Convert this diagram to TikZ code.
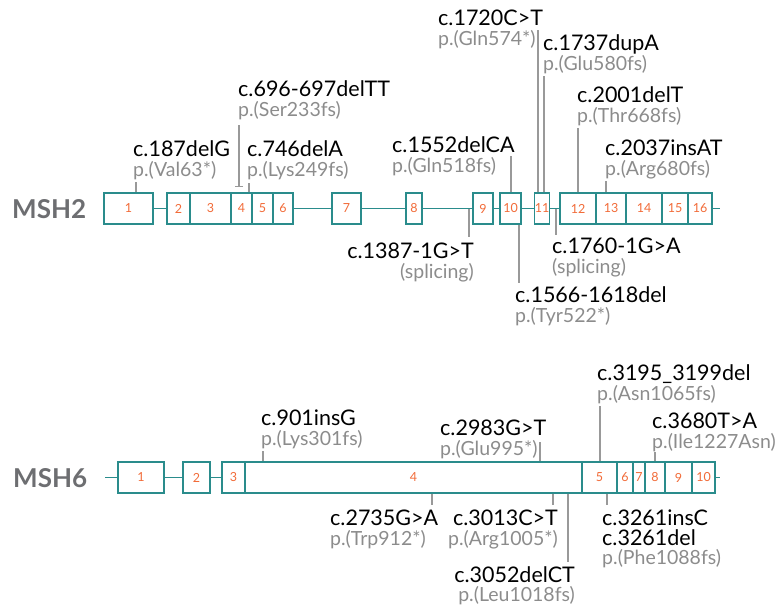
\documentclass[tikz,border=0pt]{standalone}
\usepackage{fontspec}
\setmainfont{Lato}
\usepackage{xcolor}
\usetikzlibrary{arrows.meta,positioning}
\definecolor{exonteal}{HTML}{2A8C8C}
\definecolor{exonorange}{HTML}{F26B38}
\definecolor{protgray}{HTML}{8C8C8C}
\definecolor{stemgray}{HTML}{999999}
\definecolor{genegray}{HTML}{6D6E71}

\begin{document}
\begin{tikzpicture}[
  x=1pt, y=-1pt,
  exon/.style={rectangle, draw=exonteal, fill=white, line width=1.3pt, inner sep=0pt, minimum height=31pt, text=exonorange, font=\fontsize{12.5}{12.5}\selectfont},
  intron/.style={draw=exonteal, line width=1.3pt},
  cname/.style={inner sep=0pt, anchor=base west, font=\fontsize{21.5}{21.5}\selectfont},
  pname/.style={inner sep=0pt, anchor=base west, text=protgray, font=\fontsize{19.5}{19.5}\selectfont},
  stem/.style={draw=stemgray, line width=1.1pt},
  gene/.style={inner sep=0pt, anchor=base west, text=genegray, font=\bfseries\fontsize{26}{26}\selectfont}
]
  \useasboundingbox (0,0) rectangle (776,608);

  % MSH2
  \node[gene] (msh2) at (12,218) {MSH2};
  \foreach \n/\a/\b in {1/104/153, 2/167/190, 3/190/231, 4/231/252, 5/252/273, 6/273/293, 7/332/361, 8/406/422, 9/473/493, 10/500/521, 11/535/549, 12/560/596, 13/596/626, 14/626/662, 15/662/688, 16/688/712}
    \node[exon, minimum width={(\b-\a)*1pt}] (a\n) at ({(\a+\b)/2},208.5) {\n};
  \foreach \n [evaluate=\n as \m using int(\n+1)] in {1,...,15}
    \draw[intron] (a\n.east) -- (a\m.west);
  \coordinate (a-end) at (720,208.5);
  \draw[intron] (a16.east) -- (a-end);

  \node[cname] (c187) at (133,156) {c.187delG};
  \node[pname] (p187) at ([yshift=-20pt]c187.base west) {p.(Val63*)};
  \coordinate (s187) at (136,182);
  \draw[stem] (s187) -- (s187 |- a1.north);

  \node[cname] (c696) at (238,96) {c.696-697delTT};
  \node[pname] (p696) at ([yshift=-20pt]c696.base west) {p.(Ser233fs)};
  \coordinate (s696) at (239,125);
  \coordinate (t696) at (239,187);
  \draw[stem, -{Bar[width=8pt]}] (s696) -- (t696);

  \node[cname] (c746) at (247,156) {c.746delA};
  \node[pname] (p746) at ([yshift=-20pt]c746.base west) {p.(Lys249fs)};
  \coordinate (s746) at (249,183);
  \draw[stem] (s746) -- (s746 |- a4.north);

  \node[cname] (c1552) at (392,152) {c.1552delCA};
  \node[pname] (p1552) at ([yshift=-20pt]c1552.base west) {p.(Gln518fs)};
  \coordinate (s1552) at (511,156);
  \draw[stem] (s1552) -- (s1552 |- a10.north);

  \node[cname] (c1720) at (438,25) {c.1720C>T};
  \node[pname] (p1720) at ([yshift=-20pt]c1720.base west) {p.(Gln574*)};
  \coordinate (s1720) at (538,30);
  \draw[stem] (s1720) -- (s1720 |- a11.north);

  \node[cname] (c1737) at (543,50) {c.1737dupA};
  \node[pname] (p1737) at ([yshift=-20pt]c1737.base west) {p.(Glu580fs)};
  \coordinate (s1737) at (544,76);
  \draw[stem] (s1737) -- (s1737 |- a11.north);

  \node[cname] (c2001) at (577,102) {c.2001delT};
  \node[pname] (p2001) at ([yshift=-20pt]c2001.base west) {p.(Thr668fs)};
  \coordinate (s2001) at (578,128);
  \draw[stem] (s2001) -- (s2001 |- a12.north);

  \node[cname] (c2037) at (605,155) {c.2037insAT};
  \node[pname] (p2037) at ([yshift=-20pt]c2037.base west) {p.(Arg680fs)};
  \coordinate (s2037) at (606,181);
  \draw[stem] (s2037) -- (s2037 |- a13.north);

  \node[cname, anchor=base east] (c1387) at (474,258) {c.1387-1G>T};
  \node[pname, anchor=base east] (p1387) at ([yshift=-20pt]c1387.base east) {(splicing)};
  \coordinate (s1387) at (469,237);
  \draw[stem] (s1387 |- a9.west) -- (s1387);

  \node[cname] (c1566) at (515,302) {c.1566-1618del};
  \node[pname] (p1566) at ([yshift=-20pt]c1566.base west) {p.(Tyr522*)};
  \coordinate (s1566) at (519,283);
  \draw[stem] (s1566 |- a10.south) -- (s1566);

  \node[cname] (c1760) at (552,253) {c.1760-1G>A};
  \node[pname] (p1760) at ([yshift=-20pt]c1760.base west) {(splicing)};
  \coordinate (s1760) at (556,235);
  \draw[stem] (s1760 |- a11.east) -- (s1760);

  % MSH6
  \node[gene] (msh6) at (13,487) {MSH6};
  \foreach \n/\a/\b in {1/118/164, 2/183/210, 3/222/245, 4/245/582, 5/582/617, 6/617/633, 7/633/645, 8/645/665, 9/665/692, 10/692/715}
    \node[exon, minimum width={(\b-\a)*1pt}] (b\n) at ({(\a+\b)/2},477.5) {\n};
  \foreach \n [evaluate=\n as \m using int(\n+1)] in {1,...,9}
    \draw[intron] (b\n.east) -- (b\m.west);
  \coordinate (b-start) at (105,477.5);
  \coordinate (b-end) at (720,477.5);
  \draw[intron] (b-start) -- (b1.west);
  \draw[intron] (b10.east) -- (b-end);

  \node[cname] (c901) at (261,425) {c.901insG};
  \node[pname] (p901) at ([yshift=-20pt]c901.base west) {p.(Lys301fs)};
  \coordinate (s901) at (263,451);
  \draw[stem] (s901) -- (s901 |- b4.north);

  \node[cname] (c2983) at (440,435) {c.2983G>T};
  \node[pname] (p2983) at ([yshift=-20pt]c2983.base west) {p.(Glu995*)};
  \coordinate (s2983) at (540,442);
  \draw[stem] (s2983) -- (s2983 |- b4.north);

  \node[cname] (c3195) at (597,380) {c.3195\_3199del};
  \node[pname] (p3195) at ([yshift=-20pt]c3195.base west) {p.(Asn1065fs)};
  \coordinate (s3195) at (600,406);
  \draw[stem] (s3195) -- (s3195 |- b5.north);

  \node[cname] (c3680) at (652,428) {c.3680T>A};
  \node[pname] (p3680) at ([yshift=-20pt]c3680.base west) {p.(Ile1227Asn)};
  \coordinate (s3680) at (655,452);
  \draw[stem] (s3680) -- (s3680 |- b8.north);

  \node[cname] (c2735) at (330,525) {c.2735G>A};
  \node[pname] (p2735) at ([yshift=-20pt]c2735.base west) {p.(Trp912*)};
  \coordinate (s2735) at (432,505);
  \draw[stem] (s2735 |- b4.south) -- (s2735);

  \node[cname, anchor=base east] (c3013) at (558,525) {c.3013C>T};
  \node[pname, anchor=base east] (p3013) at ([yshift=-20pt]c3013.base east) {p.(Arg1005*)};
  \coordinate (s3013) at (553,505);
  \draw[stem] (s3013 |- b4.south) -- (s3013);

  \node[cname, anchor=base east] (c3052) at (575,582) {c.3052delCT};
  \node[pname, anchor=base east] (p3052) at ([yshift=-19pt]c3052.base east) {p.(Leu1018fs)};
  \coordinate (s3052) at (568,562);
  \draw[stem] (s3052 |- b4.south) -- (s3052);

  \node[cname] (c3261) at (602,525) {c.3261insC};
  \node[cname] (d3261) at ([yshift=-20pt]c3261.base west) {c.3261del};
  \node[pname] (p3261) at ([yshift=-19pt]d3261.base west) {p.(Phe1088fs)};
  \coordinate (s3261) at (607,505);
  \draw[stem] (s3261 |- b5.south) -- (s3261);
\end{tikzpicture}
\end{document}
